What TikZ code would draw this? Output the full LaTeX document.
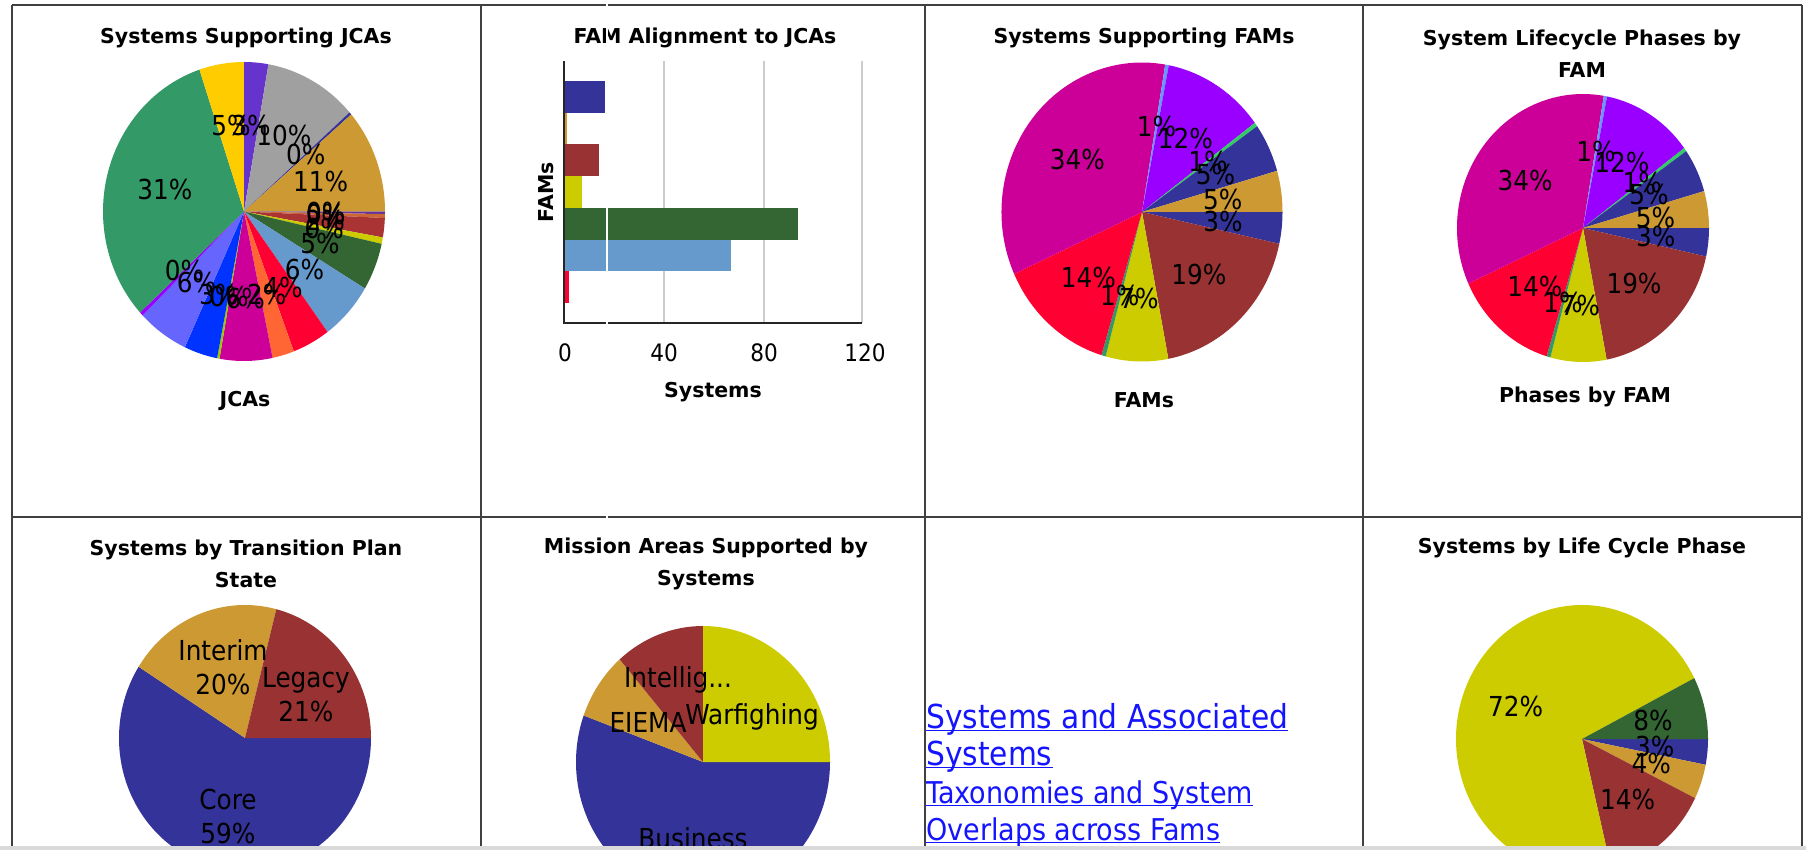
\documentclass[tikz,border=0pt]{standalone}
\usepackage{fontspec}
\setmainfont{DejaVu Sans}
\newfontfamily\chartfont[FakeStretch=0.9]{DejaVu Sans}
\usetikzlibrary{positioning}

\definecolor{jpurple}{HTML}{6633CC}
\definecolor{jgray}{HTML}{A0A0A0}
\definecolor{navy}{HTML}{333399}
\definecolor{tan}{HTML}{CC9933}
\definecolor{brick}{HTML}{993333}
\definecolor{olive}{HTML}{CCCC00}
\definecolor{dkgreen}{HTML}{336633}
\definecolor{ltblue}{HTML}{6699CC}
\definecolor{redc}{HTML}{FF0033}
\definecolor{orangec}{HTML}{FF6633}
\definecolor{magentac}{HTML}{CC0099}
\definecolor{yelgreen}{HTML}{99CC00}
\definecolor{bluec}{HTML}{0033FF}
\definecolor{periw}{HTML}{6666FF}
\definecolor{violetc}{HTML}{9900FF}
\definecolor{sea}{HTML}{339966}
\definecolor{gold}{HTML}{FFCC00}
\definecolor{sky}{HTML}{6699FF}
\definecolor{mint}{HTML}{33CC66}
\definecolor{plum}{HTML}{663399}
\definecolor{rust}{HTML}{CC6633}
\definecolor{rubyc}{HTML}{AA3333}
\definecolor{linkblue}{HTML}{1414FF}

\tikzstyle{title}=[font=\bfseries\fontsize{20.5}{32}\selectfont, align=center, inner sep=0pt]
\tikzstyle{pct}=[font=\chartfont\fontsize{27.5}{34}\selectfont, align=center, inner sep=0pt]
\tikzstyle{tick}=[font=\chartfont\fontsize{24}{28}\selectfont, inner sep=0pt]
\tikzstyle{link}=[font=\chartfont\fontsize{33}{37}\selectfont, text=linkblue, anchor=base west, inner sep=0pt]
\tikzstyle{linksmall}=[font=\chartfont\fontsize{30}{36}\selectfont, text=linkblue, anchor=base west, inner sep=0pt]
\tikzstyle{uline}=[draw=linkblue, line width=1.6pt]
\tikzstyle{grid}=[draw=black!75, line width=2pt]
\tikzstyle{gridline}=[draw=black!20, line width=1.2pt]
\tikzstyle{axisline}=[draw=black!85, line width=1.6pt]

% slice of an elliptic pie: centre, from, to, colour (angles clockwise from 3 o'clock)
\newcommand{\pieslice}[4]{\fill[#4] (#1) -- ([shift={(#2:{\rx} and {\ry})}]#1) arc[start angle=#2, end angle=#3, x radius=\rx, y radius=\ry] -- cycle;}
% percentage label in the middle of a slice: centre, name, from, to, text
\newcommand{\pielabel}[5]{\node[pct] (#2) at ([shift={({(#3+#4)/2}:{0.58*\rx} and {0.58*\ry})}]#1) {#5};}

\begin{document}
\begin{tikzpicture}[x=1pt,y=-1pt]
\useasboundingbox (0,0) rectangle (1806,850);
\clip (0,0) rectangle (1806,850);
\fill[white] (0,0) rectangle (1806,850);

% Systems Supporting JCAs
\node[title] (t1) at (246,38) {Systems Supporting JCAs};
\coordinate (c1) at (244,211.5);
\def\rx{141}\def\ry{149.5}
\pieslice{c1}{0}{1}{plum}
\pieslice{c1}{1}{2.5}{rust}
\pieslice{c1}{2.5}{10}{rubyc}
\pieslice{c1}{10}{12.5}{olive}
\pieslice{c1}{12.5}{31}{dkgreen}
\pieslice{c1}{31}{53.7}{ltblue}
\pieslice{c1}{53.7}{69.3}{redc}
\pieslice{c1}{69.3}{78.3}{orangec}
\pieslice{c1}{78.3}{100}{magentac}
\pieslice{c1}{100}{101}{yelgreen}
\pieslice{c1}{101}{114.8}{bluec}
\pieslice{c1}{114.8}{136}{periw}
\pieslice{c1}{136}{137.5}{violetc}
\pieslice{c1}{137.5}{251.6}{sea}
\pieslice{c1}{251.6}{270}{gold}
\pieslice{c1}{270}{280}{jpurple}
\pieslice{c1}{280}{318.5}{jgray}
\pieslice{c1}{318.5}{319.5}{navy}
\pieslice{c1}{319.5}{360}{tan}
\pielabel{c1}{j1}{0}{1}{0\%}
\pielabel{c1}{j2}{1}{2.5}{0\%}
\pielabel{c1}{j3}{2.5}{10}{2\%}
\pielabel{c1}{j4}{10}{12.5}{0\%}
\pielabel{c1}{j5}{12.5}{31}{5\%}
\pielabel{c1}{j6}{31}{53.7}{6\%}
\pielabel{c1}{j7}{53.7}{69.3}{4\%}
\pielabel{c1}{j8}{69.3}{78.3}{2\%}
\pielabel{c1}{j9}{78.3}{100}{6\%}
\pielabel{c1}{j10}{100}{101}{0\%}
\pielabel{c1}{j11}{101}{114.8}{3\%}
\pielabel{c1}{j12}{114.8}{136}{6\%}
\pielabel{c1}{j13}{136}{137.5}{0\%}
\pielabel{c1}{j14}{137.5}{251.6}{31\%}
\pielabel{c1}{j15}{251.6}{270}{5\%}
\pielabel{c1}{j16}{270}{280}{3\%}
\pielabel{c1}{j17}{280}{318.5}{10\%}
\pielabel{c1}{j18}{318.5}{319.5}{0\%}
\pielabel{c1}{j19}{319.5}{360}{11\%}
\node[title] (x1) at (245,401) {JCAs};

% FAM Alignment to JCAs
\node[title] (t2) at (705,38) {FAM Alignment to JCAs};
\draw[gridline] (664,61) -- (664,323);
\draw[gridline] (764,61) -- (764,323);
\draw[gridline] (862,61) -- (862,323);
\fill[navy] (564,81) rectangle (605,112.7);
\fill[tan] (564,112.7) rectangle (567,144.4);
\fill[brick] (564,144.4) rectangle (599,176.1);
\fill[olive] (564,176.1) rectangle (582,207.9);
\fill[dkgreen] (564,207.9) rectangle (798,239.6);
\fill[ltblue] (564,239.6) rectangle (731,271.3);
\fill[redc] (564,271.3) rectangle (569,303);
\draw[axisline] (564,61) -- (564,323) -- (862,323);
\node[tick] (k0) at (565,353) {0};
\node[tick] (k1) at (664,353) {40};
\node[tick] (k2) at (764,353) {80};
\node[tick] (k3) at (865,353) {120};
\node[title] (x2) at (713,392) {Systems};
\node[title, rotate=90] (y2) at (546,192) {FAMs};

% Systems Supporting FAMs
\node[title] (t3) at (1144,38) {Systems Supporting FAMs};
\coordinate (c3) at (1142,212);
\def\rx{140.5}\def\ry{149.5}
\pieslice{c3}{0}{12.3}{navy}
\pieslice{c3}{12.3}{79.2}{brick}
\pieslice{c3}{79.2}{105}{olive}
\pieslice{c3}{105}{106.8}{sea}
\pieslice{c3}{106.8}{155.5}{redc}
\pieslice{c3}{155.5}{279.5}{magentac}
\pieslice{c3}{279.5}{281}{sky}
\pieslice{c3}{281}{323.4}{violetc}
\pieslice{c3}{323.4}{325}{mint}
\pieslice{c3}{325}{344}{navy}
\pieslice{c3}{344}{360}{tan}
\pielabel{c3}{f1}{0}{12.3}{3\%}
\pielabel{c3}{f2}{12.3}{79.2}{19\%}
\pielabel{c3}{f3}{79.2}{105}{7\%}
\pielabel{c3}{f4}{105}{106.8}{1\%}
\pielabel{c3}{f5}{106.8}{155.5}{14\%}
\pielabel{c3}{f6}{155.5}{279.5}{34\%}
\pielabel{c3}{f7}{279.5}{281}{1\%}
\pielabel{c3}{f8}{281}{323.4}{12\%}
\pielabel{c3}{f9}{323.4}{325}{1\%}
\pielabel{c3}{f10}{325}{344}{5\%}
\pielabel{c3}{f11}{344}{360}{5\%}
\node[title] (x3) at (1144,400) {FAMs};

% System Lifecycle Phases by FAM
\node[title] (t4) at (1582,54) {System Lifecycle Phases by\\FAM};
\coordinate (c4) at (1583,228);
\def\rx{126}\def\ry{134}
\pieslice{c4}{0}{12.3}{navy}
\pieslice{c4}{12.3}{79.2}{brick}
\pieslice{c4}{79.2}{105}{olive}
\pieslice{c4}{105}{106.8}{sea}
\pieslice{c4}{106.8}{155.5}{redc}
\pieslice{c4}{155.5}{279.5}{magentac}
\pieslice{c4}{279.5}{281}{sky}
\pieslice{c4}{281}{323.4}{violetc}
\pieslice{c4}{323.4}{325}{mint}
\pieslice{c4}{325}{344}{navy}
\pieslice{c4}{344}{360}{tan}
\pielabel{c4}{g1}{0}{12.3}{3\%}
\pielabel{c4}{g2}{12.3}{79.2}{19\%}
\pielabel{c4}{g3}{79.2}{105}{7\%}
\pielabel{c4}{g4}{105}{106.8}{1\%}
\pielabel{c4}{g5}{106.8}{155.5}{14\%}
\pielabel{c4}{g6}{155.5}{279.5}{34\%}
\pielabel{c4}{g7}{279.5}{281}{1\%}
\pielabel{c4}{g8}{281}{323.4}{12\%}
\pielabel{c4}{g9}{323.4}{325}{1\%}
\pielabel{c4}{g10}{325}{344}{5\%}
\pielabel{c4}{g11}{344}{360}{5\%}
\node[title] (x4) at (1585,397) {Phases by FAM};

% Systems by Transition Plan State
\node[title] (t5) at (246,564) {Systems by Transition Plan\\State};
\coordinate (c5) at (245,738);
\def\rx{126}\def\ry{133}
\pieslice{c5}{0}{212.4}{navy}
\pieslice{c5}{212.4}{284.4}{tan}
\pieslice{c5}{284.4}{360}{brick}
\node[pct] (p5a) at (223,667) {Interim\\20\%};
\node[pct] (p5b) at (306,695) {Legacy\\21\%};
\node[pct] (p5c) at (228,816) {Core\\59\%};

% Mission Areas Supported by Systems
\node[title] (t6) at (706,564) {Mission Areas Supported by\\Systems};
\coordinate (c6) at (703,762);
\def\rx{127}\def\ry{136}
\pieslice{c6}{0}{200}{navy}
\pieslice{c6}{200}{229}{tan}
\pieslice{c6}{229}{270}{brick}
\pieslice{c6}{270}{360}{olive}
\node[pct] (p6a) at (678,680) {Intellig...};
\node[pct] (p6b) at (648,722) {EIEMA};
\node[pct] (p6c) at (752,717) {Warfighing};
\node[pct] (p6d) at (693,838) {Business};

% links
\node[link] (a1) at (926,728) {Systems and Associated};
\node[link] (a2) at (926,765) {Systems};
\node[linksmall] (b1) at (926,803) {Taxonomies and System};
\node[linksmall] (b2) at (926,840) {Overlaps across Fams};
\draw[uline] ([yshift=-2.5pt]a1.base west) -- ([yshift=-2.5pt]a1.base east);
\draw[uline] ([yshift=-2.5pt]a2.base west) -- ([yshift=-2.5pt]a2.base east);
\draw[uline] ([yshift=-2.5pt]b1.base west) -- ([yshift=-2.5pt]b1.base east);
\draw[uline] ([yshift=-2.5pt]b2.base west) -- ([yshift=-2.5pt]b2.base east);

% Systems by Life Cycle Phase
\node[title] (t8) at (1582,548) {Systems by Life Cycle Phase};
\coordinate (c8) at (1582,739);
\def\rx{126}\def\ry{134}
\pieslice{c8}{0}{11.1}{navy}
\pieslice{c8}{11.1}{26.2}{tan}
\pieslice{c8}{26.2}{76.6}{brick}
\pieslice{c8}{76.6}{333}{olive}
\pieslice{c8}{333}{360}{dkgreen}
\pielabel{c8}{h1}{0}{11.1}{3\%}
\pielabel{c8}{h2}{11.1}{26.2}{4\%}
\pielabel{c8}{h3}{26.2}{76.6}{14\%}
\pielabel{c8}{h4}{76.6}{333}{72\%}
\pielabel{c8}{h5}{333}{360}{8\%}

% table rules
\draw[grid] (12,5) -- (1802,5);
\draw[grid] (12,517) -- (1802,517);
\draw[grid] (12,5) -- (12,850);
\draw[grid] (481,5) -- (481,850);
\draw[grid] (925,5) -- (925,850);
\draw[grid] (1363,5) -- (1363,850);
\draw[grid] (1802,5) -- (1802,850);
\draw[white, line width=2pt] (607,0) -- (607,519);
\fill[black!15] (0,846) rectangle (1806,850);
\end{tikzpicture}
\end{document}
